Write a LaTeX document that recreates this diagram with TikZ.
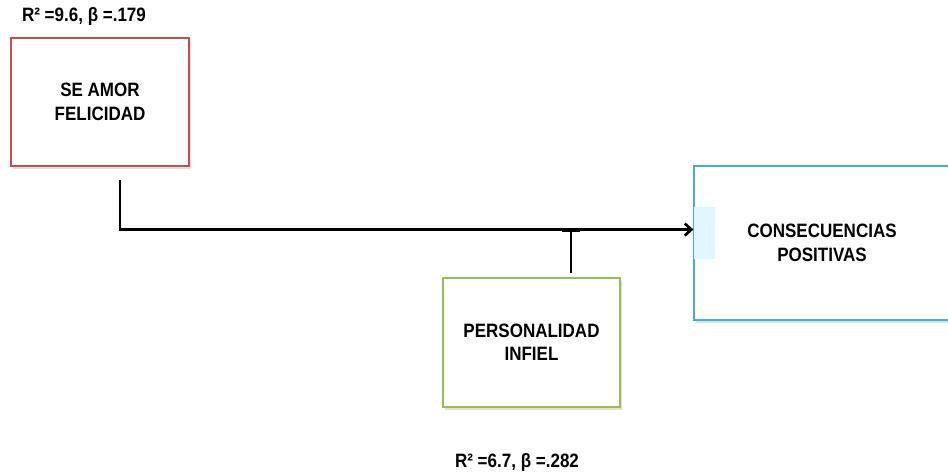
\documentclass[tikz,border=0pt]{standalone}
\usepackage{fontspec}
\setmainfont{Liberation Sans}[FakeStretch=0.88]
\usepackage{tikz}
\usetikzlibrary{arrows.meta,shadows}

\definecolor{boxred}{RGB}{192,80,77}
\definecolor{boxgreen}{RGB}{155,187,89}
\definecolor{boxblue}{RGB}{75,172,198}

\tikzset{
  varbox/.style={draw,line width=0.9pt,fill=white,align=center,
    font=\fontsize{14.5}{17.5}\selectfont\bfseries,
    drop shadow={opacity=0.25,shadow xshift=1.2pt,shadow yshift=-2pt}},
  coef/.style={font=\fontsize{14.5}{16}\selectfont\bfseries},
  conn/.style={line width=2.1pt}
}

\begin{document}
\begin{tikzpicture}[line cap=butt,line join=miter,x=0.75pt,y=-0.75pt,
  >={Straight Barb[length=5pt,width=9pt,line width=2pt]}]
\useasboundingbox (0,0) rectangle (948,471);
\clip (0,0) rectangle (948,471);
% variables
\node[varbox,draw=boxred,minimum width=133.5pt,minimum height=96pt] (amor) at (100,102) {SE AMOR\\FELICIDAD};
\node[varbox,draw=boxgreen,minimum width=132.75pt,minimum height=96.75pt] (pers) at (531.5,342.5) {PERSONALIDAD\\INFIEL};
\node[varbox,draw=boxblue,minimum width=192pt,minimum height=115.5pt] (cons) at (822,243) {CONSECUENCIAS\\POSITIVAS};
\fill[cyan!12] (694,207) rectangle (715,259);
% coefficients
\node[coef] (r1) at (84,17) {R² =9.6, β =.179};
\node[coef] (r2) at (517,462) {R² =6.7, β =.282};
% paths
\coordinate (start) at (120,180);
\coordinate (bar) at (571,229.5);
\draw[conn,->] (start) |- (bar -| cons.west);
\draw[conn] (bar) -- ([yshift=3pt]pers.north -| bar);
\draw[line width=3pt] ([xshift=-7pt]bar) -- ([xshift=7pt]bar);
\end{tikzpicture}
\end{document}
